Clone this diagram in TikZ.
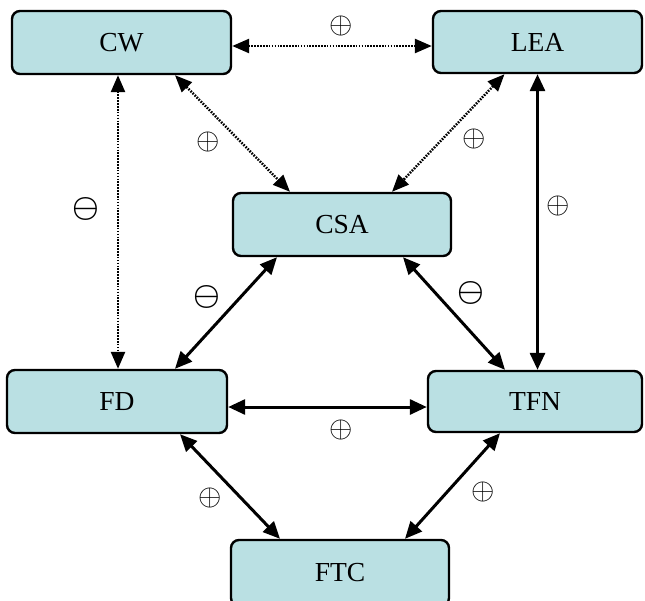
\RequirePackage{fix-cm}
\documentclass[tikz,border=0pt]{standalone}
\usepackage{bm}
\usepackage{fontspec}
\setmainfont{Liberation Serif}
\usetikzlibrary{arrows.meta,calc}
\definecolor{boxfill}{RGB}{186,224,227}
\tikzset{
  box/.style={draw=black, line width=2.4pt, fill=boxfill, rounded corners=8pt,
    inner sep=0pt, font=\fontsize{27.5}{27.5}\selectfont},
  link/.style={line width=3pt, {Triangle[length=17pt,width=15pt]}-{Triangle[length=17pt,width=15pt]}},
  dotlink/.style={line width=2.5pt, dash pattern=on 1.6pt off 1.3pt,
    {Triangle[length=17pt,width=14pt]}-{Triangle[length=17pt,width=14pt]}},
  plus/.style={inner sep=0pt, font=\fontsize{30}{30}\selectfont},
  minus/.style={inner sep=0pt, font=\fontsize{30}{30}\selectfont}
}
\begin{document}
\begin{tikzpicture}[x=1pt,y=-1pt]
\useasboundingbox (0,0) rectangle (645,600);
\node[box, minimum width=219pt, minimum height=63pt] (CW)  at (121.5,42.5) {CW};
\node[box, minimum width=209pt, minimum height=62pt] (LEA) at (537.5,42) {LEA};
\node[box, minimum width=218pt, minimum height=63pt] (CSA) at (342,224.5) {CSA};
\node[box, minimum width=220pt, minimum height=63pt] (FD)  at (117,401.5) {FD};
\node[box, minimum width=214pt, minimum height=61pt] (TFN) at (535,401.5) {TFN};
\node[box, minimum width=218pt, minimum height=66pt] (FTC) at (340,573) {FTC};

% connectors
\draw[dotlink] ([yshift=-3.5pt]CW.east) -- ([yshift=-3.5pt]CW.east -| LEA.west);
\draw[dotlink] ([xshift=-3.5pt]CW.south) -- ([xshift=-3.5pt]CW.south |- FD.north);
\draw[dotlink] ([xshift=53.5pt]CW.south) -- ([xshift=-52pt]CSA.north);
\draw[dotlink] ([xshift=-33pt]LEA.south) -- ([xshift=50pt]CSA.north);
\draw[link] (LEA.south) -- (LEA.south |- TFN.north);
\draw[link] ([xshift=-65pt]CSA.south) -- ([xshift=58pt]FD.north);
\draw[link] ([xshift=61pt]CSA.south) -- ([xshift=-30pt]TFN.north);
\draw[link] ([yshift=-5.5pt]FD.east) -- ([yshift=-5.5pt]FD.east -| TFN.west);
\draw[link] ([xshift=63pt]FD.south) -- ([xshift=-60pt]FTC.north);
\draw[link] ([xshift=-35pt]TFN.south) -- ([xshift=65pt]FTC.north);

% labels
\node[plus]  (l1)  at (341,26)  {$\oplus$};
\node[plus]  (l2)  at (208,142) {$\oplus$};
\node[plus]  (l3)  at (474,139) {$\oplus$};
\node[minus] (l4)  at (86,209)  {$\bm{\ominus}$};
\node[plus]  (l5)  at (558,206) {$\oplus$};
\node[minus] (l6)  at (207,297) {$\bm{\ominus}$};
\node[minus] (l7)  at (471,293) {$\bm{\ominus}$};
\node[plus]  (l8)  at (341,430) {$\oplus$};
\node[plus]  (l9)  at (210,498) {$\oplus$};
\node[plus]  (l10) at (483,492) {$\oplus$};
\end{tikzpicture}
\end{document}
